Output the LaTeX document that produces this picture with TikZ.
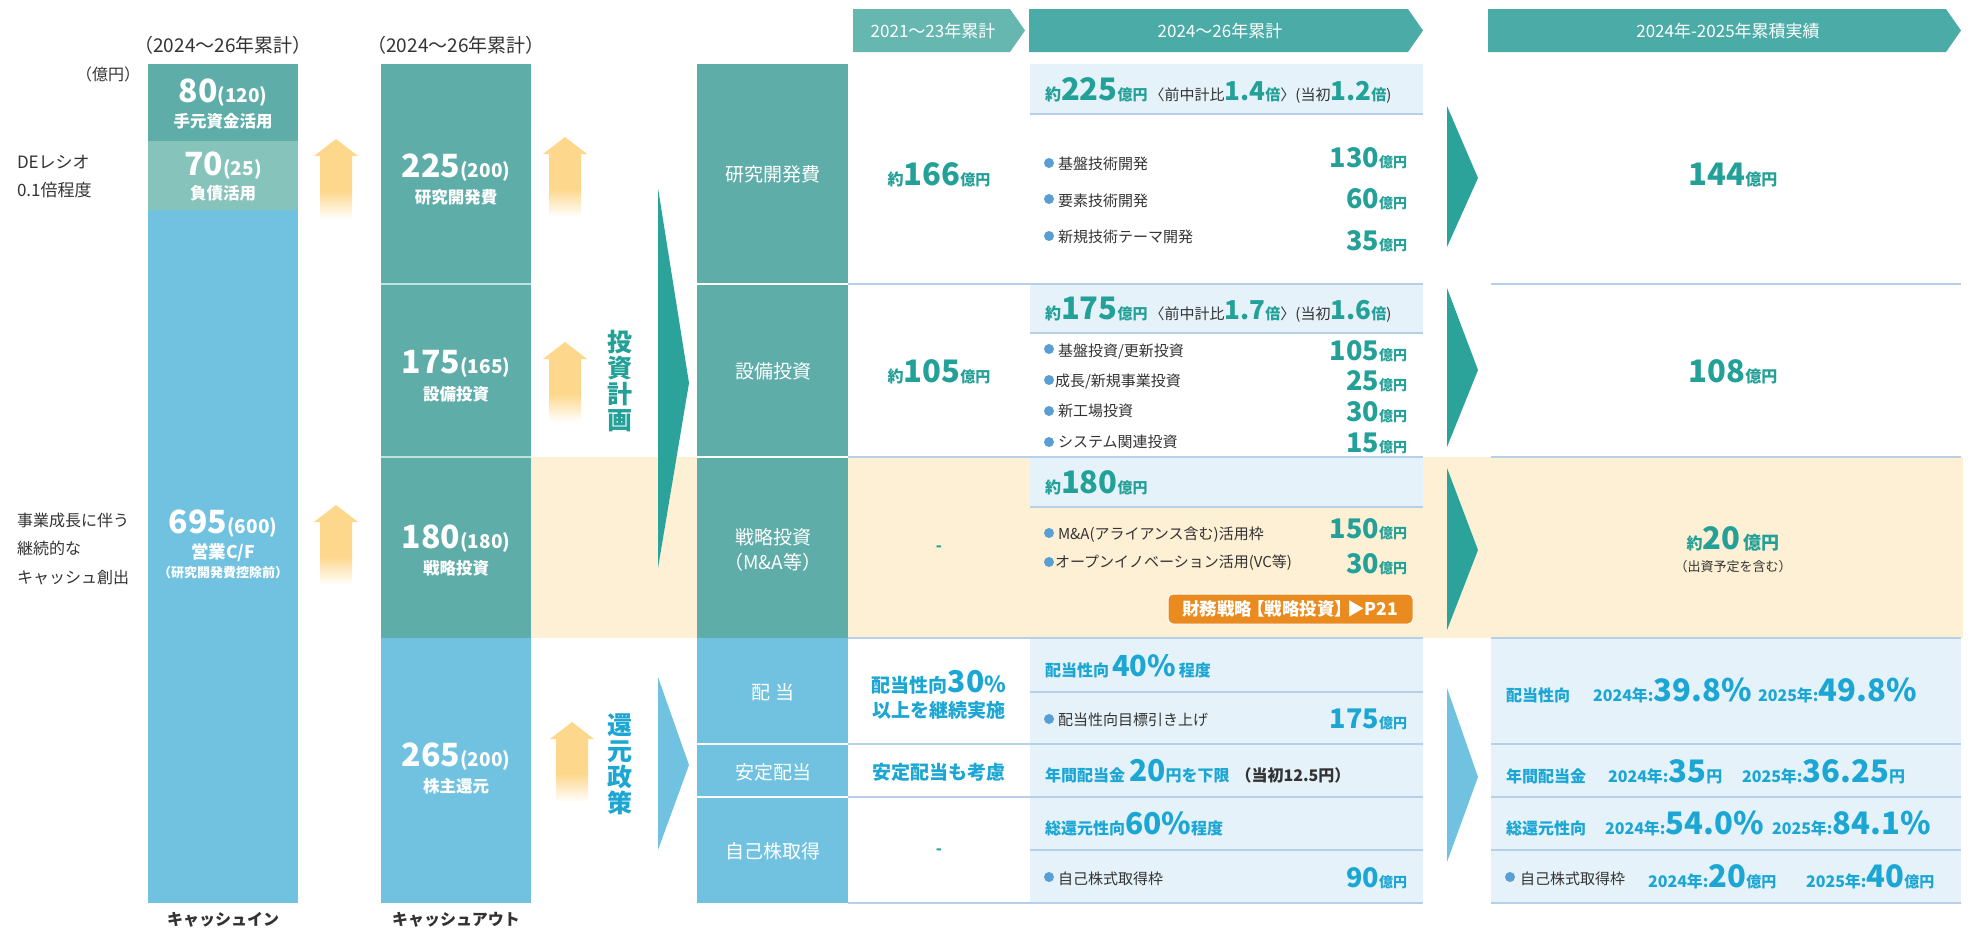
\documentclass[tikz,border=0pt]{standalone}
\usepackage{fontspec}
\setmainfont{Noto Sans CJK JP}
\newcommand\fsz[1]{\fontsize{#1}{#1}\selectfont}
\newcommand\gradarrow[2]{%
  \fill[yelc] (#1-22,#2+17) -- (#1,#2) -- (#1+22,#2+17) -- (#1+16,#2+17) -- (#1+16,#2+52) -- (#1-16,#2+52) -- (#1-16,#2+17) -- cycle;
  \shade[top color=yelc, bottom color=white] (#1-16,#2+51.5) rectangle (#1+16,#2+80);
}
\definecolor{tealbar}{HTML}{5EADA9}
\definecolor{lteal}{HTML}{86C3BB}
\definecolor{bluebar}{HTML}{71C2E0}
\definecolor{headA}{HTML}{67B7B1}
\definecolor{headB}{HTML}{4BACA7}
\definecolor{tealtri}{HTML}{2BA39B}
\definecolor{tealtxt}{HTML}{23A097}
\definecolor{bluetxt}{HTML}{1CA6D4}
\definecolor{bandc}{HTML}{E5F2F9}
\definecolor{linec}{HTML}{B7CFE7}
\definecolor{creamc}{HTML}{FEF0D5}
\definecolor{yelc}{HTML}{FDD78B}
\definecolor{orangec}{HTML}{EA8B1F}
\definecolor{bulc}{HTML}{5A9FD4}
\definecolor{darkc}{HTML}{333333}
\definecolor{sepc}{HTML}{BDE3DC}
\tikzset{
 lbl/.style={inner sep=0pt, outer sep=0pt},
 wb/.style={lbl, text=white, font=\bfseries},
 wr/.style={lbl, text=white},
 tb/.style={lbl, text=tealtxt, font=\bfseries},
 bb/.style={lbl, text=bluetxt, font=\bfseries},
 dk/.style={lbl, text=darkc},
 hline/.style={draw=linec, line width=1.2pt},
 wline/.style={draw=white, line width=1.5pt},
 bul/.style={fill=bulc},
}
\begin{document}
\begin{tikzpicture}[x=1pt,y=-1pt]
\useasboundingbox (0,0) rectangle (1970,932);
% cream band
\fill[creamc] (531,457) rectangle (1963,638);
% bars
\fill[tealbar] (148,64) rectangle (298,141);
\fill[lteal] (148,141) rectangle (298,210);
\fill[bluebar] (148,210) rectangle (298,903);
\fill[tealbar] (381,64) rectangle (531,638);
\fill[bluebar] (381,638) rectangle (531,903);
\draw[draw=sepc, line width=1.5pt] (381,284) -- (531,284) (381,457) -- (531,457);
% category column
\fill[tealbar] (697,64) rectangle (848,638);
\fill[bluebar] (697,638) rectangle (848,903);
\draw[wline] (697,284) -- (848,284) (697,457) -- (848,457) (697,744) -- (848,744) (697,797) -- (848,797);
% bands
\fill[bandc] (1030,64) rectangle (1423,114);
\fill[bandc] (1030,284) rectangle (1423,333);
\fill[bandc] (1030,457) rectangle (1423,507);
\fill[bandc] (1030,638) rectangle (1423,903);
\fill[bandc] (1491,638) rectangle (1961,903);
% lines
\draw[hline] (1030,114) -- (1423,114);
\draw[hline] (848,284) -- (1423,284);
\draw[hline] (1030,333) -- (1423,333);
\draw[hline] (848,457) -- (1423,457);
\draw[hline] (1030,507) -- (1423,507);
\draw[hline] (848,638) -- (1423,638);
\draw[hline] (1030,692) -- (1423,692);
\draw[hline] (848,744) -- (1423,744);
\draw[hline] (848,797) -- (1423,797);
\draw[hline] (1030,850) -- (1423,850);
\draw[hline] (848,903) -- (1423,903);
\draw[hline] (1491,284) -- (1961,284);
\draw[hline] (1491,457) -- (1961,457);
\draw[hline] (1491,638) -- (1961,638);
\draw[hline] (1491,744) -- (1961,744);
\draw[hline] (1491,797) -- (1961,797);
\draw[hline] (1491,850) -- (1961,850);
\draw[hline] (1491,903) -- (1961,903);
% header chevrons
\fill[headA] (853,9) -- (1010,9) -- (1025,30.5) -- (1010,52) -- (853,52) -- cycle;
\fill[headB] (1029,9) -- (1408,9) -- (1423,30.5) -- (1408,52) -- (1029,52) -- cycle;
\fill[headB] (1488,9) -- (1946,9) -- (1961,30.5) -- (1946,52) -- (1488,52) -- cycle;
\node[wr, font=\fsz{17}] (h1) at (933,31) {2021～23年累計};
\node[wr, font=\fsz{17}] (h2) at (1220,31) {2024～26年累計};
\node[wr, font=\fsz{17}] (h3) at (1728,31) {2024年-2025年累積実績};
% triangles
\fill[tealtri] (658,188) -- (689,383) -- (658,568) -- cycle;
\fill[bluebar] (658,677) -- (689,765) -- (658,850) -- cycle;
\fill[tealtri] (1447,106) -- (1478,178) -- (1447,247) -- cycle;
\fill[tealtri] (1447,288) -- (1478,370) -- (1447,447) -- cycle;
\fill[tealtri] (1447,468) -- (1478,550) -- (1447,630) -- cycle;
\fill[bluebar] (1447,688) -- (1478,777) -- (1447,862) -- cycle;
% yellow arrows
\gradarrow{336}{139}
\gradarrow{336}{505}
\gradarrow{565}{137}
\gradarrow{565}{342}
\gradarrow{572}{722}
% top labels
\node[dk, font=\fsz{19}] (y1) at (223,45) {（2024～26年累計）};
\node[dk, font=\fsz{19}] (y2) at (456,45) {（2024～26年累計）};
\node[dk, font=\fsz{16}] (unit) at (108,74) {（億円）};
\node[dk, font=\fsz{17}, anchor=west] (de1) at (17,162) {DEレシオ};
\node[dk, font=\fsz{17}, anchor=west] (de2) at (17,190) {0.1倍程度};
\node[dk, font=\fsz{16}, anchor=west] (g1) at (17,520) {事業成長に伴う};
\node[dk, font=\fsz{16}, anchor=west] (g2) at (17,548) {継続的な};
\node[dk, font=\fsz{16}, anchor=west] (g3) at (17,578) {キャッシュ創出};
% bar 1 texts
\node[wb, anchor=base] (a1) at (223,102) {\fsz{32}80\fsz{19}(120)};
\node[wb, font=\bfseries\fsz{16.5}] (a1l) at (223,121) {手元資金活用};
\node[wb, anchor=base] (a2) at (223,175) {\fsz{32}70\fsz{19}(25)};
\node[wb, font=\bfseries\fsz{16.5}] (a2l) at (223,193) {負債活用};
\node[wb, anchor=base] (a3) at (223,533) {\fsz{32}695\fsz{19}(600)};
\node[wb, font=\bfseries\fsz{17.5}] (a3l) at (223,553) {営業C/F};
\node[wb, font=\bfseries\fsz{13}] (a3m) at (223,573) {（研究開発費控除前）};
\node[lbl, font=\bfseries\fsz{16}, text=darkc] (cin) at (223,920) {キャッシュイン};
% bar 2 texts
\node[wb, anchor=base] (b1) at (456,177) {\fsz{32}225\fsz{19}(200)};
\node[wb, font=\bfseries\fsz{16.5}] (b1l) at (456,197) {研究開発費};
\node[wb, anchor=base] (b2) at (456,373) {\fsz{32}175\fsz{19}(165)};
\node[wb, font=\bfseries\fsz{16.5}] (b2l) at (456,394) {設備投資};
\node[wb, anchor=base] (b3) at (456,548) {\fsz{32}180\fsz{19}(180)};
\node[wb, font=\bfseries\fsz{16.5}] (b3l) at (456,568) {戦略投資};
\node[wb, anchor=base] (b4) at (456,766) {\fsz{32}265\fsz{19}(200)};
\node[wb, font=\bfseries\fsz{16.5}] (b4l) at (456,786) {株主還元};
\node[lbl, font=\bfseries\fsz{16}, text=darkc] (cout) at (456,920) {キャッシュアウト};
% vertical labels
\node[tb, align=center, font=\bfseries\fontsize{25}{26}\selectfont] (vp) at (620,381) {投\\資\\計\\画};
\node[bb, align=center, font=\bfseries\fontsize{25}{26}\selectfont] (vr) at (620,764) {還\\元\\政\\策};
% category labels
\node[wr, font=\fsz{19}] (c1) at (773,174) {研究開発費};
\node[wr, font=\fsz{19}] (c2) at (773,371) {設備投資};
\node[wr, font=\fsz{19}] (c3) at (773,537) {戦略投資};
\node[wr, font=\fsz{19}] (c3b) at (773,562) {（M\&A等）};
\node[wr, font=\fsz{19}] (c4) at (773,692) {配 当};
\node[wr, font=\fsz{19}] (c5) at (773,772) {安定配当};
\node[wr, font=\fsz{19}] (c6) at (773,851) {自己株取得};
% 2021-23 column
\node[tb, anchor=base] (p1) at (939,185) {\fsz{16}約\fsz{31}166\fsz{15}億円};
\node[tb, anchor=base] (p2) at (939,382) {\fsz{16}約\fsz{31}105\fsz{15}億円};
\node[tb, font=\bfseries\fsz{16}] (p3) at (939,549) {-};
\node[bb, anchor=base] (p4) at (939,692) {\fsz{19}配当性向\fsz{30}30\fsz{22}\%};
\node[bb, font=\bfseries\fsz{19}] (p4b) at (939,710) {以上を継続実施};
\node[bb, font=\bfseries\fsz{19}] (p5) at (939,772) {安定配当も考慮};
\node[tb, font=\bfseries\fsz{16}] (p6) at (939,852) {-};
% 2024-26 column: R&D
\node[lbl, anchor=base west, font=\bfseries] (d1) at (1045,100) {\color{tealtxt}\fsz{16}約\fsz{31}225\fsz{15}億円\hspace{2pt}\color{darkc}\mdseries〈前中計比\color{tealtxt}\bfseries\fsz{26}1.4\fsz{15}倍\color{darkc}\mdseries〉(当初\color{tealtxt}\bfseries\fsz{26}1.2\fsz{15}倍\color{darkc}\mdseries)};
\fill[bul] (1049,163) circle (5);
\node[dk, anchor=base west, font=\fsz{15}] (d1a) at (1058,169) {基盤技術開発};
\node[tb, anchor=base east] (d1av) at (1407,167) {\fsz{27}130\fsz{14}億円};
\fill[bul] (1049,199) circle (5);
\node[dk, anchor=base west, font=\fsz{15}] (d1b) at (1058,206) {要素技術開発};
\node[tb, anchor=base east] (d1bv) at (1407,208) {\fsz{27}60\fsz{14}億円};
\fill[bul] (1049,236) circle (5);
\node[dk, anchor=base west, font=\fsz{15}] (d1c) at (1058,242) {新規技術テーマ開発};
\node[tb, anchor=base east] (d1cv) at (1407,250) {\fsz{27}35\fsz{14}億円};
% equipment
\node[lbl, anchor=base west, font=\bfseries] (d2) at (1045,319) {\color{tealtxt}\fsz{16}約\fsz{31}175\fsz{15}億円\hspace{2pt}\color{darkc}\mdseries〈前中計比\color{tealtxt}\bfseries\fsz{26}1.7\fsz{15}倍\color{darkc}\mdseries〉(当初\color{tealtxt}\bfseries\fsz{26}1.6\fsz{15}倍\color{darkc}\mdseries)};
\fill[bul] (1049,349) circle (5);
\node[dk, anchor=base west, font=\fsz{15}] (d2a) at (1058,356) {基盤投資/更新投資};
\node[tb, anchor=base east] (d2av) at (1407,360) {\fsz{27}105\fsz{14}億円};
\fill[bul] (1049,380) circle (5);
\node[dk, anchor=base west, font=\fsz{15}] (d2b) at (1055,386) {成長/新規事業投資};
\node[tb, anchor=base east] (d2bv) at (1407,390) {\fsz{27}25\fsz{14}億円};
\fill[bul] (1049,411) circle (5);
\node[dk, anchor=base west, font=\fsz{15}] (d2c) at (1058,416) {新工場投資};
\node[tb, anchor=base east] (d2cv) at (1407,421) {\fsz{27}30\fsz{14}億円};
\fill[bul] (1049,442) circle (5);
\node[dk, anchor=base west, font=\fsz{15}] (d2d) at (1058,447) {システム関連投資};
\node[tb, anchor=base east] (d2dv) at (1407,452) {\fsz{27}15\fsz{14}億円};
% strategy
\node[tb, anchor=base west] (d3) at (1045,493) {\fsz{16}約\fsz{31}180\fsz{15}億円};
\fill[bul] (1049,533) circle (5);
\node[dk, anchor=base west, font=\fsz{15}] (d3a) at (1058,539) {M\&A(アライアンス含む)活用枠};
\node[tb, anchor=base east] (d3av) at (1407,538) {\fsz{27}150\fsz{14}億円};
\fill[bul] (1049,562) circle (5);
\node[dk, anchor=base west, font=\fsz{15}] (d3b) at (1055,567) {オープンイノベーション活用(VC等)};
\node[tb, anchor=base east] (d3bv) at (1407,573) {\fsz{27}30\fsz{14}億円};
\draw[draw=white, line width=1pt, fill=orangec, rounded corners=5pt] (1168,594) rectangle (1413,624);
\node[wb, font=\bfseries\fsz{17.5}] (btn) at (1290,609) {財務戦略\hspace{-5pt}【戦略投資】\hspace{-5pt}▶P21};
% returns
\node[bb, anchor=base west] (e1) at (1045,676) {\fsz{16}配当性向\hspace{3pt}\fsz{29}40\%\hspace{3pt}\fsz{16}程度};
\fill[bul] (1049,719) circle (5);
\node[dk, anchor=base west, font=\fsz{15}] (e2) at (1058,725) {配当性向目標引き上げ};
\node[bb, anchor=base east] (e2v) at (1407,728) {\fsz{27}175\fsz{14}億円};
\node[bb, anchor=base west] (e3) at (1045,781) {\fsz{16}年間配当金\hspace{4pt}\fsz{30}20\fsz{16}円を下限\hspace{6pt}\color{darkc}（当初12.5円）};
\node[bb, anchor=base west] (e4) at (1045,834) {\fsz{16}総還元性向\fsz{30}60\%\fsz{16}程度};
\fill[bul] (1049,877) circle (5);
\node[dk, anchor=base west, font=\fsz{15}] (e5) at (1058,884) {自己株式取得枠};
\node[bb, anchor=base east] (e5v) at (1407,887) {\fsz{27}90\fsz{14}億円};
% results
\node[tb, anchor=base] (r1) at (1733,185) {\fsz{31}144\fsz{16}億円};
\node[tb, anchor=base] (r2) at (1733,382) {\fsz{31}108\fsz{16}億円};
\node[tb, anchor=base] (r3) at (1733,549) {\fsz{16}約\fsz{31}20\hspace{3pt}\fsz{18}億円};
\node[dk, font=\fsz{13}] (r3b) at (1733,567) {（出資予定を含む）};
\node[bb, anchor=base west, font=\bfseries\fsz{16}] (s1) at (1506,701) {配当性向};
\node[bb, anchor=base west] (s1a) at (1593,701) {\fsz{16}2024年:\fsz{31}39.8\%};
\node[bb, anchor=base west] (s1b) at (1758,701) {\fsz{16}2025年:\fsz{31}49.8\%};
\node[bb, anchor=base west, font=\bfseries\fsz{16}] (s2) at (1506,782) {年間配当金};
\node[bb, anchor=base west] (s2a) at (1608,782) {\fsz{16}2024年:\fsz{31}35\fsz{16}円};
\node[bb, anchor=base west] (s2b) at (1742,782) {\fsz{16}2025年:\fsz{31}36.25\fsz{16}円};
\node[bb, anchor=base west, font=\bfseries\fsz{16}] (s3) at (1506,834) {総還元性向};
\node[bb, anchor=base west] (s3a) at (1605,834) {\fsz{16}2024年:\fsz{31}54.0\%};
\node[bb, anchor=base west] (s3b) at (1772,834) {\fsz{16}2025年:\fsz{31}84.1\%};
\fill[bul] (1510,877) circle (5);
\node[dk, anchor=base west, font=\fsz{15}] (s4) at (1520,884) {自己株式取得枠};
\node[bb, anchor=base west] (s4a) at (1648,887) {\fsz{16}2024年:\fsz{31}20\fsz{15}億円};
\node[bb, anchor=base west] (s4b) at (1806,887) {\fsz{16}2025年:\fsz{31}40\fsz{15}億円};
\end{tikzpicture}
\end{document}
